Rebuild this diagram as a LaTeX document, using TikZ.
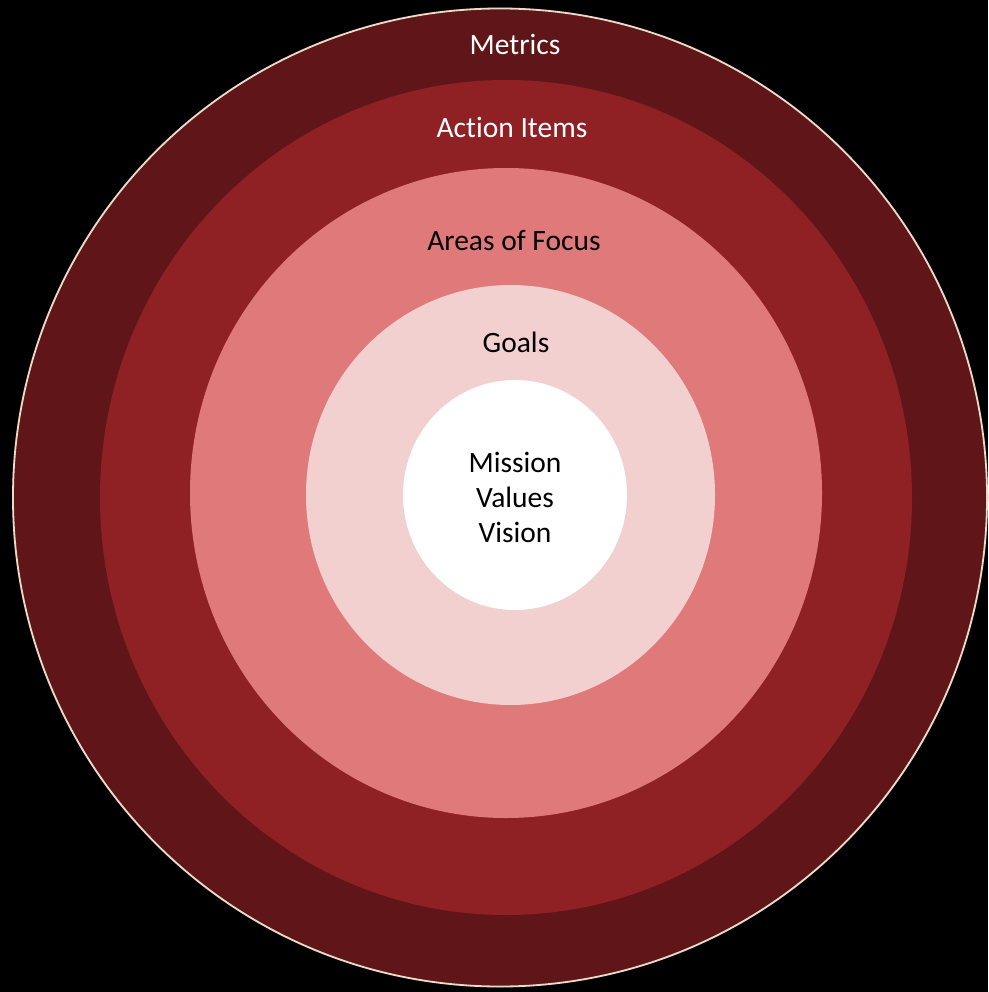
\documentclass[tikz,border=0pt]{standalone}
\usepackage{fontspec}
\setmainfont[Ligatures={NoCommon}]{Carlito}
\definecolor{ringA}{HTML}{601618}
\definecolor{ringB}{HTML}{8F2125}
\definecolor{ringC}{HTML}{E07A7A}
\definecolor{ringD}{HTML}{F2D0D0}
\definecolor{rim}{HTML}{E6DCC8}
\tikzset{
  lbl/.style={font=\fontsize{29.5}{35}\selectfont, align=center, inner sep=0pt},
  lightlbl/.style={lbl, text=white},
  darklbl/.style={lbl, text=black}
}
\begin{document}
\begin{tikzpicture}[x=1pt,y=-1pt]
\useasboundingbox (0,0) rectangle (988,992);
\fill[black] (0,0) rectangle (988,992);
\fill[ringA] (500,497.5) ellipse [x radius=488, y radius=490];
\draw[rim, line width=1.8pt] (500,497.5) ellipse [x radius=487, y radius=489];
\fill[ringB] (506,497.5) ellipse [x radius=406, y radius=417.5];
\fill[ringC] (506,493) ellipse [x radius=316, y radius=325];
\fill[ringD] (510.5,495) ellipse [x radius=204.5, y radius=210];
\fill[white] (515,495) ellipse [x radius=112, y radius=115];
\node[lightlbl] (metrics) at (515,44) {Metrics};
\node[lightlbl] (action) at (512,127) {Action Items};
\node[darklbl] (focus) at (514,240) {Areas of Focus};
\node[darklbl] (goals) at (516,342) {Goals};
\node[darklbl] (core) at (515,497) {Mission\\Values\\Vision};
\end{tikzpicture}
\end{document}
